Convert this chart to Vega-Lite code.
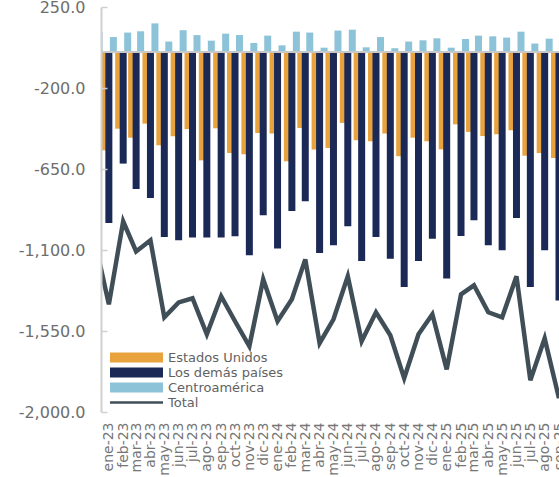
{
  "$schema": "https://vega.github.io/schema/vega-lite/v6.json",
  "width": 458,
  "height": 405,
  "autosize": "none",
  "padding": {"left": 101, "top": 7, "right": 0, "bottom": 65},
  "background": "white",
  "config": {
    "view": {"stroke": null},
    "font": "DejaVu Sans"
  },
  "data": {
    "values": [
      {"fecha": "2022/12/01", "eu": -500, "otros": -652, "ca": 111, "total": -1041},
      {"fecha": "2023/01/01", "eu": -546, "otros": -950, "ca": 83, "total": -1402},
      {"fecha": "2023/02/01", "eu": -426, "otros": -620, "ca": 108, "total": -941},
      {"fecha": "2023/03/01", "eu": -476, "otros": -761, "ca": 115, "total": -1108},
      {"fecha": "2023/04/01", "eu": -398, "otros": -811, "ca": 159, "total": -1046},
      {"fecha": "2023/05/01", "eu": -518, "otros": -1028, "ca": 58, "total": -1474},
      {"fecha": "2023/06/01", "eu": -468, "otros": -1046, "ca": 121, "total": -1391},
      {"fecha": "2023/07/01", "eu": -428, "otros": -1031, "ca": 94, "total": -1368},
      {"fecha": "2023/08/01", "eu": -602, "otros": -1031, "ca": 63, "total": -1568},
      {"fecha": "2023/09/01", "eu": -424, "otros": -1031, "ca": 102, "total": -1357},
      {"fecha": "2023/10/01", "eu": -561, "otros": -1024, "ca": 94, "total": -1496},
      {"fecha": "2023/11/01", "eu": -568, "otros": -1129, "ca": 50, "total": -1635},
      {"fecha": "2023/12/01", "eu": -450, "otros": -907, "ca": 91, "total": -1263},
      {"fecha": "2024/01/01", "eu": -453, "otros": -1092, "ca": 37, "total": -1496},
      {"fecha": "2024/02/01", "eu": -607, "otros": -883, "ca": 113, "total": -1374},
      {"fecha": "2024/03/01", "eu": -422, "otros": -829, "ca": 108, "total": -1152},
      {"fecha": "2024/04/01", "eu": -542, "otros": -1117, "ca": 24, "total": -1618},
      {"fecha": "2024/05/01", "eu": -533, "otros": -1074, "ca": 119, "total": -1485},
      {"fecha": "2024/06/01", "eu": -394, "otros": -968, "ca": 124, "total": -1246},
      {"fecha": "2024/07/01", "eu": -490, "otros": -1161, "ca": 26, "total": -1607},
      {"fecha": "2024/08/01", "eu": -496, "otros": -1028, "ca": 83, "total": -1446},
      {"fecha": "2024/09/01", "eu": -453, "otros": -1148, "ca": 21, "total": -1574},
      {"fecha": "2024/10/01", "eu": -579, "otros": -1306, "ca": 58, "total": -1812},
      {"fecha": "2024/11/01", "eu": -476, "otros": -1161, "ca": 65, "total": -1568},
      {"fecha": "2024/12/01", "eu": -496, "otros": -1037, "ca": 76, "total": -1457},
      {"fecha": "2025/01/01", "eu": -541, "otros": -1259, "ca": 24, "total": -1763},
      {"fecha": "2025/02/01", "eu": -402, "otros": -1022, "ca": 72, "total": -1346},
      {"fecha": "2025/03/01", "eu": -444, "otros": -935, "ca": 91, "total": -1296},
      {"fecha": "2025/04/01", "eu": -467, "otros": -1074, "ca": 87, "total": -1446},
      {"fecha": "2025/05/01", "eu": -457, "otros": -1102, "ca": 80, "total": -1474},
      {"fecha": "2025/06/01", "eu": -435, "otros": -922, "ca": 113, "total": -1246},
      {"fecha": "2025/07/01", "eu": -576, "otros": -1306, "ca": 47, "total": -1824},
      {"fecha": "2025/08/01", "eu": -561, "otros": -1102, "ca": 74, "total": -1591},
      {"fecha": "2025/09/01", "eu": -589, "otros": -1381, "ca": 60, "total": -1924}
    ]
  },
  "encoding": {
    "x": {
      "field": "fecha",
      "type": "temporal",
      "scale": {"domain": [{"year": 2022, "month": 12, "date": 15}, {"year": 2025, "month": 9, "date": 1}], "padding": 0},
      "axis": {
        "title": null,
        "grid": false,
        "domain": false,
        "ticks": false,
        "tickCount": {"interval": "month", "step": 1},
        "labelExpr": "['ene','feb','mar','abr','may','jun','jul','ago','sep','oct','nov','dic'][month(datum.value)] + '-' + timeFormat(datum.value, '%y')",
        "labelAngle": -90,
        "labelAlign": "right",
        "labelBaseline": "middle",
        "labelPadding": 10,
        "labelFontSize": 14,
        "labelColor": "#767676",
        "labelFont": "DejaVu Sans",
        "labelOverlap": false,
        "labelFlush": false,
        "labelBound": false
      }
    }
  },
  "layer": [
    {
      "mark": {"type": "bar", "size": 7, "xOffset": -4.5, "clip": true},
      "encoding": {
        "y": {
          "field": "eu",
          "type": "quantitative",
          "scale": {"domain": [-2000, 250], "nice": false, "zero": false},
          "axis": {
            "title": null,
            "grid": false,
            "values": [250, -200, -650, -1100, -1550, -2000],
            "labelExpr": "replace(format(datum.value, ',.1f'), '\u2212', '-')",
            "domainColor": "#d0d0d0",
            "domainWidth": 2,
            "tickColor": "#d0d0d0",
            "tickWidth": 1.5,
            "tickSize": -6,
            "labelPadding": 22,
            "labelFontSize": 16,
            "labelFont": "DejaVu Sans",
            "labelColor": "#6e6e6e",
            "zindex": 1
          }
        },
        "color": {
          "datum": "Estados Unidos",
          "type": "nominal",
          "scale": {
            "domain": ["Estados Unidos", "Los demás países", "Centroamérica", "Total"],
            "range": ["#e8a33f", "#1b2957", "#8cc3d8", "#404e57"]
          },
          "legend": {
            "title": null,
            "orient": "none",
            "legendX": 9,
            "legendY": 343,
            "padding": 0,
            "symbolSize": 2809,
            "symbolType": "M-1,-0.19H1V0.19H-1Z",
            "symbolStrokeWidth": 0,
            "clipHeight": 15,
            "rowPadding": 0,
            "labelOffset": 5,
            "labelFontSize": 13,
            "labelFont": "DejaVu Sans",
            "labelColor": "#626262",
            "encode": {
              "symbols": {
                "update": {
                  "shape": {"signal": "datum.value === 'Total' ? 'M-1,-0.05H1V0.05H-1Z' : 'M-1,-0.19H1V0.19H-1Z'"},
                  "fill": {"signal": "scale('color', datum.value)"},
                  "stroke": {"value": "transparent"},
                  "opacity": {"value": 1}
                }
              }
            }
          }
        }
      }
    },
    {
      "mark": {"type": "bar", "size": 7, "xOffset": 0, "clip": true},
      "encoding": {
        "y": {"field": "otros", "type": "quantitative"},
        "color": {"datum": "Los demás países", "type": "nominal"}
      }
    },
    {
      "mark": {"type": "bar", "size": 7, "xOffset": 4.5, "clip": true},
      "encoding": {
        "y": {"field": "ca", "type": "quantitative"},
        "color": {"datum": "Centroamérica", "type": "nominal"}
      }
    },
    {
      "mark": {"type": "rule", "color": "#c8c8c8", "strokeWidth": 2, "clip": true},
      "encoding": {"y": {"datum": 0}, "x": null}
    },
    {
      "mark": {"type": "line", "strokeWidth": 4.5, "clip": true},
      "encoding": {
        "y": {"field": "total", "type": "quantitative"},
        "color": {"datum": "Total", "type": "nominal"}
      }
    }
  ]
}
